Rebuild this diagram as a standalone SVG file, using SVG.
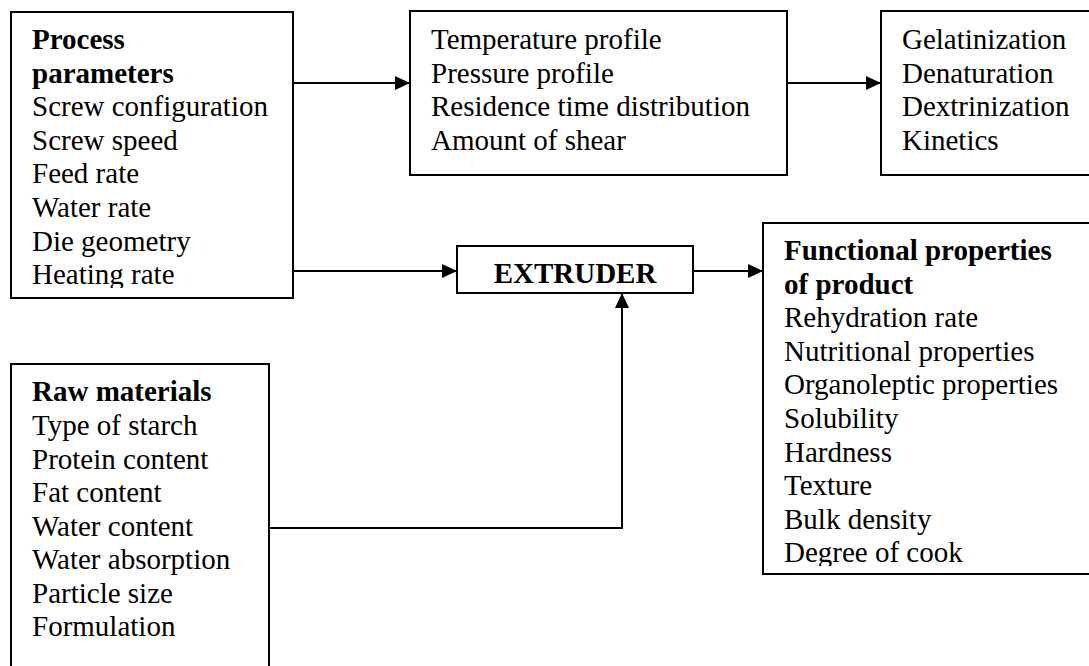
<svg xmlns="http://www.w3.org/2000/svg" width="1089" height="666" viewBox="0 0 1089 666">
<style>
.box{fill:#fff;stroke:#000;stroke-width:2}
.t{font-family:"Liberation Serif","Times New Roman",serif;font-size:29px;fill:#000}
.b{font-weight:bold}
.c{fill:none;stroke:#000;stroke-width:2}
</style>
<defs>
<marker id="ah" markerUnits="userSpaceOnUse" markerWidth="15" markerHeight="14" refX="14" refY="7" orient="auto">
<path d="M0,0 L15,7 L0,14 Z" fill="#000"/>
</marker>
<clipPath id="clipP"><rect x="11" y="12" width="282" height="276"/></clipPath>
<clipPath id="clipF"><rect x="763" y="223" width="330" height="343"/></clipPath>
</defs>
<g id="connectors">
<line class="c" x1="293" y1="83" x2="409" y2="83" marker-end="url(#ah)"/>
<line class="c" x1="787" y1="83" x2="880" y2="83" marker-end="url(#ah)"/>
<line class="c" x1="293" y1="271" x2="456" y2="271" marker-end="url(#ah)"/>
<line class="c" x1="693" y1="271" x2="762" y2="271" marker-end="url(#ah)"/>
<polyline class="c" points="269,528 622,528 622,294" marker-end="url(#ah)"/>
</g>
<g id="process">
<rect class="box" x="11" y="12" width="282" height="286"/>
<g clip-path="url(#clipP)">
<text class="t b" x="32" y="49">Process</text>
<text class="t b" x="32" y="82.6">parameters</text>
<text class="t" x="32" y="116.2">Screw configuration</text>
<text class="t" x="32" y="149.8">Screw speed</text>
<text class="t" x="32" y="183.4">Feed rate</text>
<text class="t" x="32" y="217">Water rate</text>
<text class="t" x="32" y="250.6">Die geometry</text>
<text class="t" x="32" y="284.2">Heating rate</text>
</g>
</g>
<g id="profiles">
<rect class="box" x="410" y="11" width="377" height="164"/>
<text class="t" x="431" y="49">Temperature profile</text>
<text class="t" x="431" y="82.6">Pressure profile</text>
<text class="t" x="431" y="116.2">Residence time distribution</text>
<text class="t" x="431" y="149.8">Amount of shear</text>
</g>
<g id="reactions">
<rect class="box" x="881" y="11" width="220" height="164"/>
<text class="t" x="902" y="49">Gelatinization</text>
<text class="t" x="902" y="82.6">Denaturation</text>
<text class="t" x="902" y="116.2">Dextrinization</text>
<text class="t" x="902" y="149.8">Kinetics</text>
</g>
<g id="extruder">
<rect class="box" x="457" y="246" width="236" height="47"/>
<text class="t b" x="575" y="283" text-anchor="middle">EXTRUDER</text>
</g>
<g id="functional">
<rect class="box" x="763" y="223" width="340" height="351"/>
<g clip-path="url(#clipF)">
<text class="t b" x="784" y="260">Functional properties</text>
<text class="t b" x="784" y="293.6">of product</text>
<text class="t" x="784" y="327.2">Rehydration rate</text>
<text class="t" x="784" y="360.8">Nutritional properties</text>
<text class="t" x="784" y="394.4">Organoleptic properties</text>
<text class="t" x="784" y="428">Solubility</text>
<text class="t" x="784" y="461.6">Hardness</text>
<text class="t" x="784" y="495.2">Texture</text>
<text class="t" x="784" y="528.8">Bulk density</text>
<text class="t" x="784" y="562.4">Degree of cook</text>
</g>
</g>
<g id="raw">
<rect class="box" x="11" y="364" width="258" height="330"/>
<text class="t b" x="32" y="401">Raw materials</text>
<text class="t" x="32" y="435">Type of starch</text>
<text class="t" x="32" y="468.5">Protein content</text>
<text class="t" x="32" y="502">Fat content</text>
<text class="t" x="32" y="535.5">Water content</text>
<text class="t" x="32" y="569">Water absorption</text>
<text class="t" x="32" y="602.5">Particle size</text>
<text class="t" x="32" y="636">Formulation</text>
</g>
</svg>
